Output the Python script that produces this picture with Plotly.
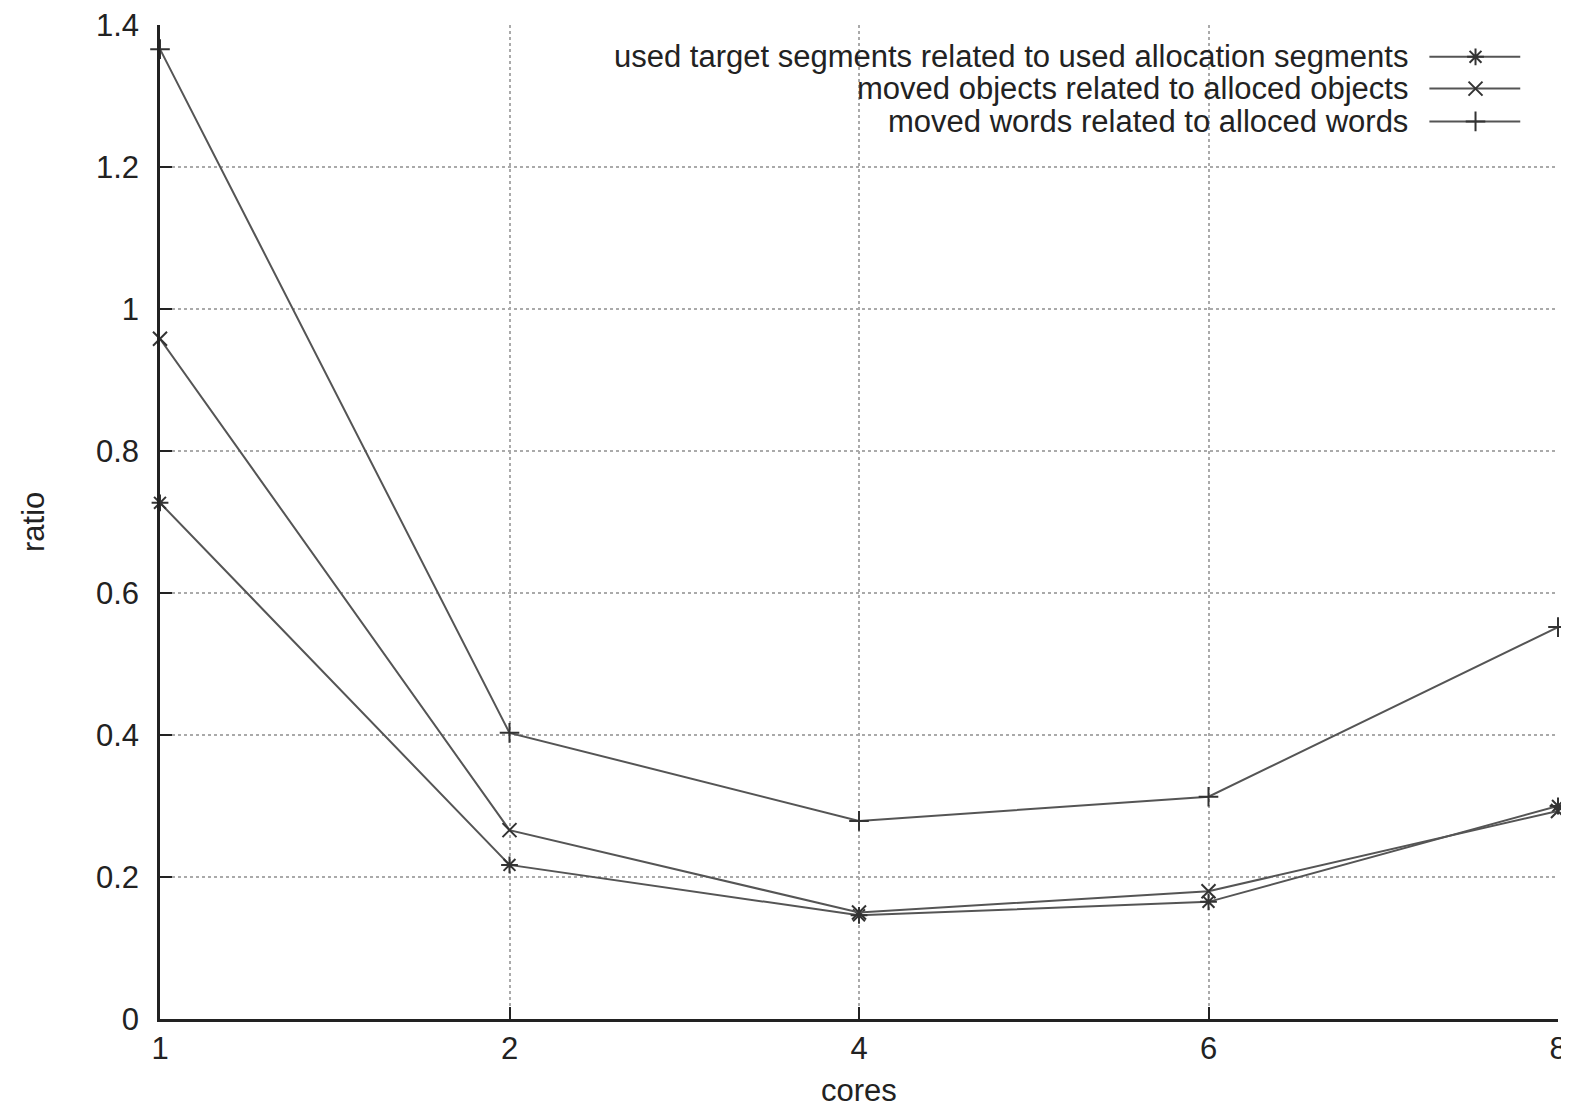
import plotly.graph_objects as go

cores = ["1", "2", "4", "6", "8"]
segments = [0.727, 0.217, 0.146, 0.165, 0.300]
objects = [0.958, 0.266, 0.150, 0.180, 0.293]
words = [1.366, 0.403, 0.279, 0.313, 0.552]
y_ticks = [0, 0.2, 0.4, 0.6, 0.8, 1, 1.2, 1.4]
y_tick_text = ["0", "0.2", "0.4", "0.6", "0.8", "1", "1.2", "1.4"]

names = [
    "used target segments related to used allocation segments",
    "moved objects related to alloced objects",
    "moved words related to alloced words",
]
symbols = ["asterisk-open", "x-thin-open", "cross-thin-open"]
series = [segments, objects, words]

LINE = "#555555"
MK = "#333333"
FONT = dict(family="Liberation Sans, Arial, sans-serif", size=31, color="#222222")

fig = go.Figure()
for vals, sym, nm in zip(series, symbols, names):
    fig.add_trace(go.Scatter(
        x=cores, y=vals, mode="lines+markers", name=nm,
        line=dict(color=LINE, width=2),
        marker=dict(symbol=sym, size=14, color=MK, line=dict(color=MK, width=2)),
        cliponaxis=False, showlegend=False,
    ))

# custom legend (text on the left, sample on the right, like gnuplot)
leg_y = [0.968, 0.936, 0.903]
for nm, sym, ly in zip(names, symbols, leg_y):
    fig.add_trace(go.Scatter(
        x=[0.908, 0.941, 0.973], y=[ly, ly, ly], xaxis="x2", yaxis="y2",
        mode="lines", line=dict(color=LINE, width=2), showlegend=False, hoverinfo="skip",
    ))
    fig.add_trace(go.Scatter(
        x=[0.941], y=[ly], xaxis="x2", yaxis="y2", mode="markers",
        marker=dict(symbol=sym, size=14, color=MK, line=dict(color=MK, width=2)),
        showlegend=False, hoverinfo="skip",
    ))
    fig.add_annotation(x=0.894, y=ly, xref="paper", yref="paper", text=nm,
                       showarrow=False, xanchor="right", yanchor="middle", font=FONT)

# axis titles
fig.add_annotation(x=0.5, y=0, xref="paper", yref="paper", text="cores", showarrow=False,
                   xanchor="center", yanchor="top", yshift=-52, font=FONT)
fig.add_annotation(x=0, y=0.5, xref="paper", yref="paper", text="ratio", showarrow=False,
                   xanchor="center", yanchor="middle", xshift=-127, textangle=-90, font=FONT)

fig.update_layout(
    width=1553, height=1099,
    margin=dict(l=152, r=3, t=17, b=88),
    paper_bgcolor="white", plot_bgcolor="white",
    font=FONT,
    xaxis=dict(
        type="category", range=[0, 4], showgrid=True, gridcolor="#aaaaaa", griddash="dot", gridwidth=1.5,
        showline=True, linecolor="#222222", linewidth=2.5, ticks="inside", ticklen=12, tickwidth=2,
        tickcolor="#222222", zeroline=False, automargin=False, ticklabeloverflow="allow",
    ),
    yaxis=dict(
        range=[0, 1.4], tickvals=y_ticks, ticktext=y_tick_text, showgrid=True,
        gridcolor="#aaaaaa", griddash="dot", gridwidth=1.5,
        showline=True, linecolor="#222222", linewidth=2.5, ticks="inside", ticklen=12, tickwidth=2,
        tickcolor="#222222", zeroline=False, automargin=False, ticklabelstandoff=12,
        ticklabeloverflow="allow",
    ),
    xaxis2=dict(overlaying="x", range=[0, 1], visible=False, fixedrange=True),
    yaxis2=dict(overlaying="y", range=[0, 1], visible=False, fixedrange=True),
)

fig.write_html("out.html")
